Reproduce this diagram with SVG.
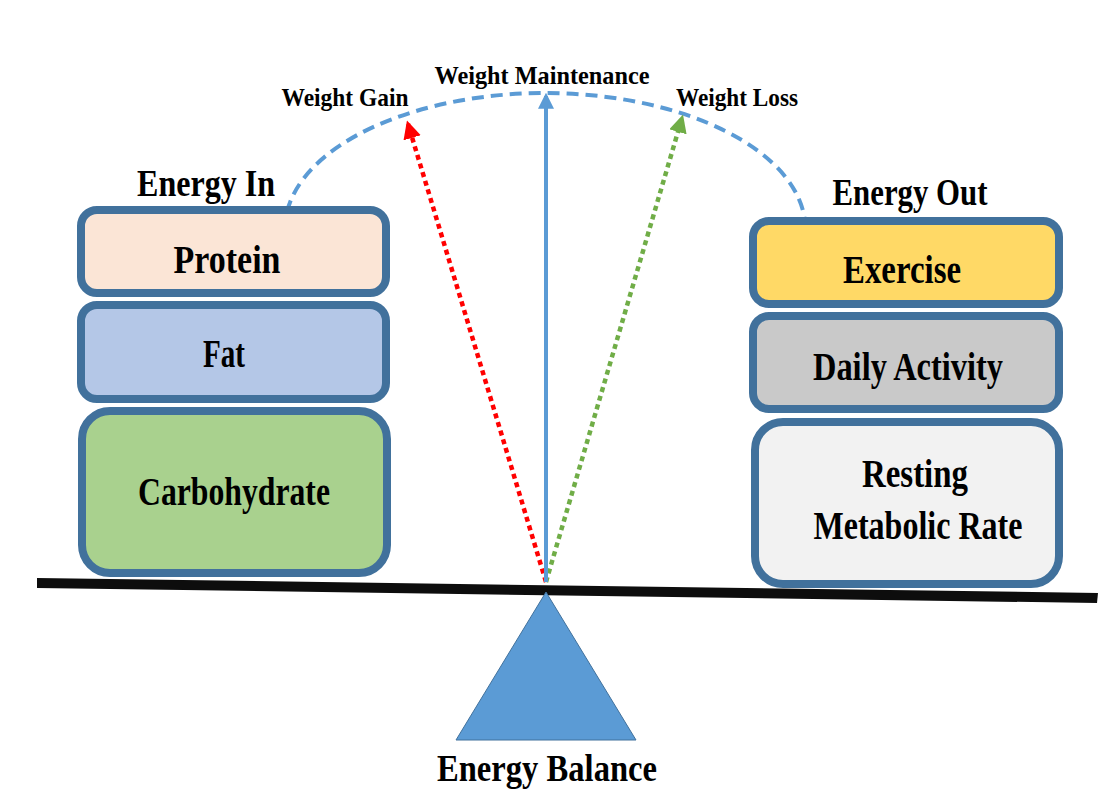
<svg xmlns="http://www.w3.org/2000/svg" width="1119" height="796" viewBox="0 0 1119 796">
<style>
.box{stroke:#41719C;stroke-width:8}
.t{font-family:"Liberation Serif","DejaVu Serif",serif;font-weight:bold;fill:#000;text-anchor:middle}
.big{font-size:39px}
.head{font-size:37px}
.small{font-size:25px}
</style>
<defs>
<marker id="ab" viewBox="0 0 10 10" refX="8" refY="5" markerWidth="4" markerHeight="4" orient="auto" markerUnits="strokeWidth"><path d="M0,0L10,5L0,10z" fill="#5B9BD5"/></marker>
<marker id="ar" viewBox="0 0 10 10" refX="8" refY="5" markerWidth="4" markerHeight="4" orient="auto" markerUnits="strokeWidth"><path d="M0,0L10,5L0,10z" fill="#FF0000"/></marker>
<marker id="ag" viewBox="0 0 10 10" refX="8" refY="5" markerWidth="4" markerHeight="4" orient="auto" markerUnits="strokeWidth"><path d="M0,0L10,5L0,10z" fill="#70AD47"/></marker>
</defs>
<rect width="1119" height="796" fill="#fff"/>
<g id="connectors">
<path d="M287,212 A261,136 0 0 1 546,93 A261,136 0 0 1 805,222" fill="none" stroke="#5B9BD5" stroke-width="4" stroke-dasharray="12,7"/>
<line x1="546" y1="582" x2="408" y2="124" stroke="#FF0000" stroke-width="4.5" stroke-dasharray="5,4" marker-end="url(#ar)"/>
<line x1="546" y1="582" x2="682" y2="118" stroke="#70AD47" stroke-width="4.5" stroke-dasharray="5,4" marker-end="url(#ag)"/>
<line x1="546" y1="582" x2="546" y2="96" stroke="#5B9BD5" stroke-width="4" marker-end="url(#ab)"/>
</g>
<g id="beam">
<polygon points="37,578 1098,593 1097,603 37,588" fill="#0D0D0D"/>
</g>
<g id="fulcrum">
<polygon points="546,592 636,740 456,740" fill="#5B9BD5" stroke="#41719C" stroke-width="1"/>
<text class="t head" x="547" y="781" textLength="220" lengthAdjust="spacingAndGlyphs">Energy Balance</text>
</g>
<g id="energy-in-label"><text class="t head" x="206" y="196" textLength="138" lengthAdjust="spacingAndGlyphs">Energy In</text></g>
<g id="energy-out-label"><text class="t head" x="910" y="205" textLength="155" lengthAdjust="spacingAndGlyphs">Energy Out</text></g>
<g id="protein"><rect class="box" x="81" y="210" width="305" height="83" rx="16" fill="#FBE5D6"/><text class="t big" x="227" y="273" textLength="107" lengthAdjust="spacingAndGlyphs">Protein</text></g>
<g id="fat"><rect class="box" x="81" y="305" width="305" height="94" rx="16" fill="#B4C7E7"/><text class="t big" x="224" y="367" textLength="42" lengthAdjust="spacingAndGlyphs">Fat</text></g>
<g id="carbohydrate"><rect class="box" x="82" y="411" width="305" height="162" rx="28" fill="#A9D18E"/><text class="t big" x="234" y="505" textLength="192" lengthAdjust="spacingAndGlyphs">Carbohydrate</text></g>
<g id="exercise"><rect class="box" x="753" y="221" width="306" height="83" rx="16" fill="#FFD966"/><text class="t big" x="902" y="283" textLength="118" lengthAdjust="spacingAndGlyphs">Exercise</text></g>
<g id="daily-activity"><rect class="box" x="753" y="316" width="306" height="93" rx="16" fill="#C9C9C9"/><text class="t big" x="908" y="380" textLength="190" lengthAdjust="spacingAndGlyphs">Daily Activity</text></g>
<g id="resting-metabolic-rate"><rect class="box" x="755" y="422" width="304" height="162" rx="28" fill="#F2F2F2"/><text class="t big" x="915" y="487" textLength="106" lengthAdjust="spacingAndGlyphs">Resting</text><text class="t big" x="918" y="539" textLength="209" lengthAdjust="spacingAndGlyphs">Metabolic Rate</text></g>
<g id="weight-gain"><text class="t small" x="345" y="106" textLength="127" lengthAdjust="spacingAndGlyphs">Weight Gain</text></g>
<g id="weight-maintenance"><text class="t small" x="542" y="84" textLength="215" lengthAdjust="spacingAndGlyphs">Weight Maintenance</text></g>
<g id="weight-loss"><text class="t small" x="737" y="106" textLength="122" lengthAdjust="spacingAndGlyphs">Weight Loss</text></g>
</svg>
